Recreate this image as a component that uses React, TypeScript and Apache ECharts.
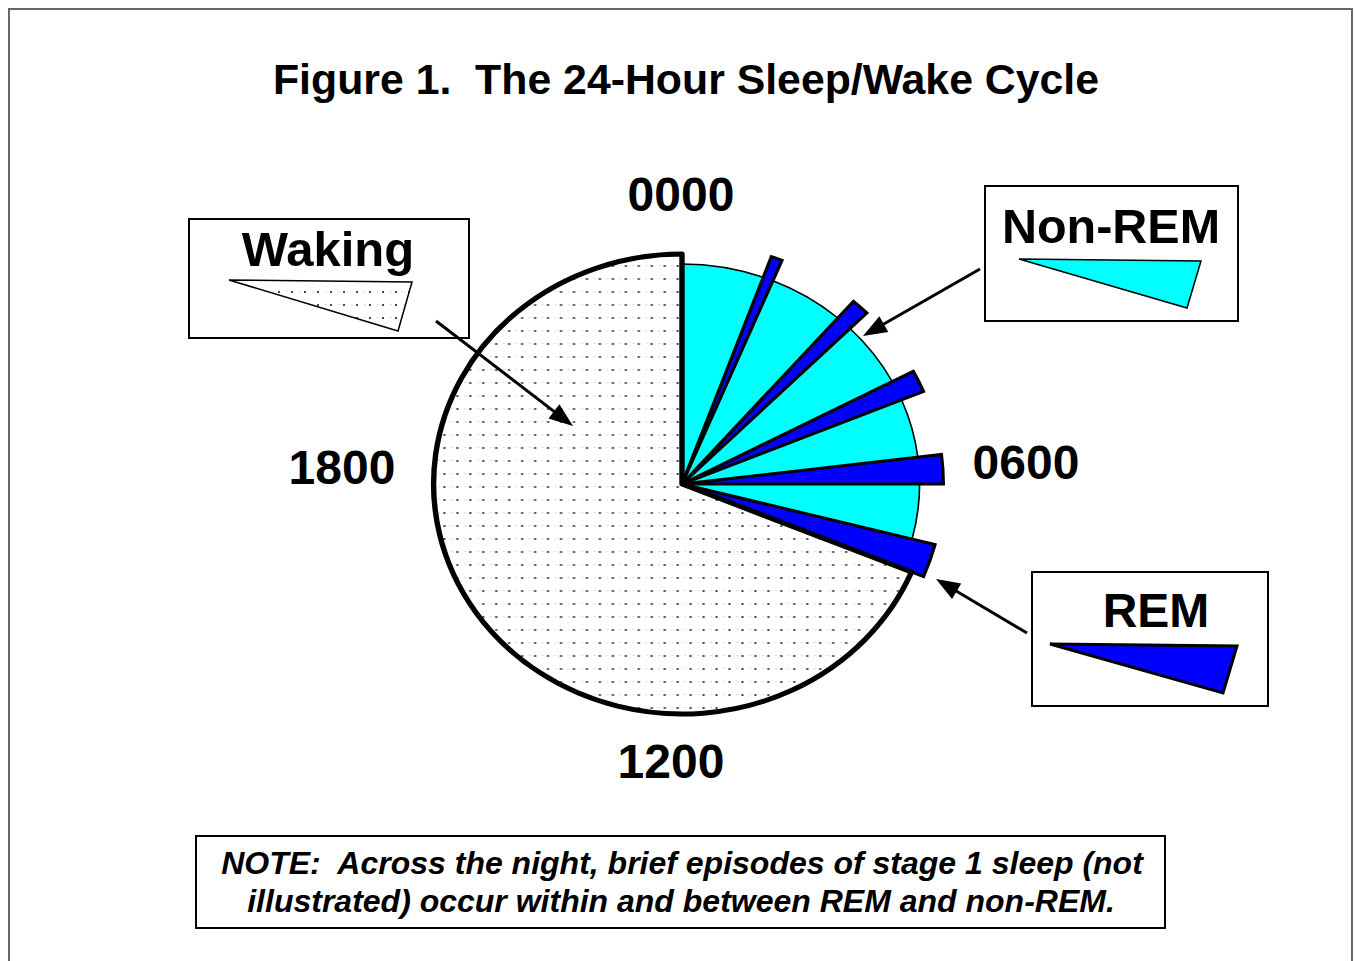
import React, { useEffect, useRef } from 'react';
import * as echarts from 'echarts';

// ---- Data (minutes of each episode, clockwise from 0000) ----
const nonRemMinutes = [80, 74, 69, 62, 58];
const remMinutes = [10, 16, 21, 28, 32];
const wakingMinutes = [990];
const clockLabels = ['0000', '0600', '1200', '1800'];
const legendNames = ['Waking', 'Non-REM', 'REM'];
const titleText = 'Figure 1.  The 24-Hour Sleep/Wake Cycle';
const noteLines = [
  'NOTE:  Across the night, brief episodes of stage 1 sleep (not',
  'illustrated) occur within and between REM and non-REM.',
];

const FONT = '"Liberation Sans", Arial, Helvetica, sans-serif';
const CYAN = '#00FFFF';
const BLUE = '#0000FF';

function makeDotPattern(w: number, h: number) {
  const c = document.createElement('canvas');
  c.width = w;
  c.height = h;
  const ctx = c.getContext('2d')!;
  ctx.fillStyle = '#ffffff';
  ctx.fillRect(0, 0, w, h);
  const cx = Math.floor(w / 2) - 1;
  const cy = Math.floor(h / 2) - 1;
  ctx.fillStyle = '#4a4a4a';
  ctx.fillRect(cx, cy, 2, 2);
  ctx.fillStyle = '#dcdcdc';
  ctx.fillRect(0, cy, 2, 1);
  return { image: c.toDataURL(), repeat: 'repeat', imageWidth: w, imageHeight: h } as any;
}

function arrow(x1: number, y1: number, x2: number, y2: number) {
  const dx = x2 - x1;
  const dy = y2 - y1;
  const L = Math.hypot(dx, dy);
  const ux = dx / L;
  const uy = dy / L;
  const hl = 24;
  const hw = 9;
  const bx = x2 - ux * hl;
  const by = y2 - uy * hl;
  return [
    { type: 'line', shape: { x1, y1, x2: bx + ux * 2, y2: by + uy * 2 }, style: { stroke: '#000', lineWidth: 3 } },
    {
      type: 'polygon',
      shape: { points: [[x2, y2], [bx - uy * hw, by + ux * hw], [bx + uy * hw, by - ux * hw]] },
      style: { fill: '#000' },
    },
  ];
}

function label(text: string, x: number, y: number, size: number, extra: any = {}) {
  return {
    type: 'text',
    x,
    y,
    style: {
      text,
      fill: '#000',
      fontSize: size,
      fontWeight: 'bold',
      fontFamily: FONT,
      textAlign: 'center',
      align: 'center',
      textVerticalAlign: 'middle',
      verticalAlign: 'middle',
      ...extra,
    },
  };
}

export default function App() {
  const pieRef = useRef<HTMLDivElement>(null);
  const overlayRef = useRef<HTMLDivElement>(null);

  useEffect(() => {
    const pie = echarts.init(pieRef.current!, null, { renderer: 'svg' });
    const ov = echarts.init(overlayRef.current!, null, { renderer: 'svg' });

    const segments: { name: string; value: number }[] = [];
    nonRemMinutes.forEach((v, i) => {
      segments.push({ name: legendNames[1], value: v });
      segments.push({ name: legendNames[2], value: remMinutes[i] });
    });
    wakingMinutes.forEach((v) => segments.push({ name: legendNames[0], value: v }));

    const hidden = { color: 'rgba(0,0,0,0)', borderWidth: 0 };
    const pieDots = makeDotPattern(12, 13);
    const legendDots = makeDotPattern(13, 13);

    const styleFor: Record<string, any> = {
      'Non-REM': { color: CYAN, borderColor: '#000', borderWidth: 1.5 },
      REM: { color: BLUE, borderColor: '#000', borderWidth: 3, borderJoin: 'miter' },
      Waking: { color: pieDots, borderColor: '#000', borderWidth: 5 },
    };
    const radiusFor: Record<string, number> = { 'Non-REM': 220, REM: 242, Waking: 230 };

    const makeSeries = (stage: string) => ({
      type: 'pie',
      name: stage,
      center: [682, 484],
      radius: [0, radiusFor[stage]],
      startAngle: 90,
      clockwise: true,
      silent: true,
      avoidLabelOverlap: false,
      label: { show: false },
      labelLine: { show: false },
      emphasis: { disabled: true },
      data: segments.map((s) => ({
        name: s.name,
        value: s.value,
        itemStyle: s.name === stage ? styleFor[stage] : hidden,
      })),
    });

    pie.setOption({
      animation: false,
      backgroundColor: '#ffffff',
      series: [makeSeries('Non-REM'), makeSeries('REM'), makeSeries('Waking')],
    });

    const graphics: any[] = [
      { type: 'rect', shape: { x: 9, y: 9, width: 1343, height: 1000 }, style: { fill: 'none', stroke: '#666', lineWidth: 2 } },
      label(titleText, 686, 79, 42.8),
      label(clockLabels[0], 681, 194, 48),
      label(clockLabels[1], 1026, 462, 48),
      label(clockLabels[2], 671, 761, 48),
      label(clockLabels[3], 342, 467, 48),
      // Waking legend box
      { type: 'rect', shape: { x: 189, y: 219, width: 280, height: 119 }, style: { fill: '#fff', stroke: '#000', lineWidth: 2 } },
      label(legendNames[0], 328, 249, 49),
      {
        type: 'polygon',
        shape: { points: [[229, 280], [412, 282], [398, 331]] },
        style: { fill: legendDots, stroke: '#000', lineWidth: 1.5 },
      },
      // Non-REM legend box
      { type: 'rect', shape: { x: 985, y: 186, width: 253, height: 135 }, style: { fill: '#fff', stroke: '#000', lineWidth: 2 } },
      label(legendNames[1], 1111, 226, 48.5),
      {
        type: 'polygon',
        shape: { points: [[1019, 259], [1201, 261], [1187, 308]] },
        style: { fill: CYAN, stroke: '#000', lineWidth: 1.5 },
      },
      // REM legend box
      { type: 'rect', shape: { x: 1032, y: 572, width: 236, height: 134 }, style: { fill: '#fff', stroke: '#000', lineWidth: 2 } },
      label(legendNames[2], 1156, 610, 48),
      {
        type: 'polygon',
        shape: { points: [[1050, 644], [1237, 646], [1223, 693]] },
        style: { fill: BLUE, stroke: '#000', lineWidth: 3 },
      },
      // arrows
      ...arrow(436, 321, 573, 426),
      ...arrow(980, 269, 863, 336),
      ...arrow(1027, 633, 936, 579),
      // note box
      { type: 'rect', shape: { x: 196, y: 836, width: 969, height: 92 }, style: { fill: '#fff', stroke: '#000', lineWidth: 2 } },
      label(noteLines[0], 682, 863, 32, { fontStyle: 'italic' }),
      label(noteLines[1], 681, 901, 32, { fontStyle: 'italic' }),
    ];

    ov.setOption({
      animation: false,
      graphic: { elements: graphics },
    });

    return () => {
      pie.dispose();
      ov.dispose();
    };
  }, []);

  return (
    <div style={{ position: 'absolute', left: 0, top: 0, width: 1355, height: 961, background: '#fff', overflow: 'hidden' }}>
      <div
        ref={pieRef}
        style={{
          position: 'absolute',
          left: 0,
          top: 0,
          width: 1355,
          height: 961,
          transform: 'scaleX(1.08)',
          transformOrigin: '682px 484px',
        }}
      />
      <div ref={overlayRef} style={{ position: 'absolute', left: 0, top: 0, width: 1355, height: 961 }} />
    </div>
  );
}
